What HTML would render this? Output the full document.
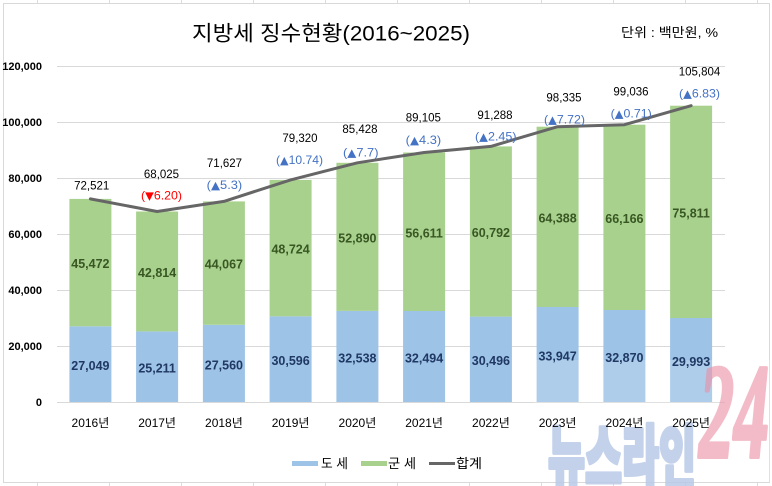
<!DOCTYPE html>
<html><head><meta charset="utf-8"><style>
html,body{margin:0;padding:0;background:#fff;}
svg{display:block;}
text{font-family:"Liberation Sans","Noto Sans CJK KR",sans-serif;}
</style></head><body>
<svg width="772" height="486" viewBox="0 0 772 486" xmlns="http://www.w3.org/2000/svg">
<rect x="0" y="0" width="772" height="486" fill="#fff"/>
<g stroke="#dcdcdc" stroke-width="1">
<line x1="37.5" y1="0" x2="37.5" y2="3"/><line x1="109.5" y1="0" x2="109.5" y2="3"/><line x1="181.5" y1="0" x2="181.5" y2="3"/><line x1="253.5" y1="0" x2="253.5" y2="3"/><line x1="325.5" y1="0" x2="325.5" y2="3"/><line x1="397.5" y1="0" x2="397.5" y2="3"/><line x1="469.5" y1="0" x2="469.5" y2="3"/><line x1="541.5" y1="0" x2="541.5" y2="3"/><line x1="613.5" y1="0" x2="613.5" y2="3"/><line x1="685.5" y1="0" x2="685.5" y2="3"/><line x1="757.5" y1="0" x2="757.5" y2="3"/>
<line x1="37.5" y1="483" x2="37.5" y2="486"/><line x1="109.5" y1="483" x2="109.5" y2="486"/><line x1="181.5" y1="483" x2="181.5" y2="486"/><line x1="253.5" y1="483" x2="253.5" y2="486"/><line x1="325.5" y1="483" x2="325.5" y2="486"/><line x1="397.5" y1="483" x2="397.5" y2="486"/><line x1="469.5" y1="483" x2="469.5" y2="486"/><line x1="541.5" y1="483" x2="541.5" y2="486"/><line x1="613.5" y1="483" x2="613.5" y2="486"/><line x1="685.5" y1="483" x2="685.5" y2="486"/><line x1="757.5" y1="483" x2="757.5" y2="486"/>
</g>
<rect x="3.5" y="3.5" width="766" height="479" fill="#fff" stroke="#d9d9d9" stroke-width="1"/>

<text x="192" y="40.5" font-size="21" fill="#000" textLength="278" lengthAdjust="spacingAndGlyphs">지방세 징수현황(2016~2025)</text>
<text x="621" y="37" font-size="13" fill="#000" textLength="97" lengthAdjust="spacingAndGlyphs">단위 : 백만원, %</text>

<g stroke="#d9d9d9" stroke-width="1">
<line x1="57" y1="66.5" x2="725" y2="66.5"/>
<line x1="57" y1="122.5" x2="725" y2="122.5"/>
<line x1="57" y1="178.5" x2="725" y2="178.5"/>
<line x1="57" y1="234.5" x2="725" y2="234.5"/>
<line x1="57" y1="290.5" x2="725" y2="290.5"/>
<line x1="57" y1="346.5" x2="725" y2="346.5"/>
<line x1="57" y1="402.5" x2="725" y2="402.5"/>
</g>
<g font-size="11" font-weight="bold" fill="#000" text-anchor="end" dominant-baseline="central">
<text x="42" y="67">120,000</text>
<text x="42" y="123">100,000</text>
<text x="42" y="179">80,000</text>
<text x="42" y="235">60,000</text>
<text x="42" y="291">40,000</text>
<text x="42" y="347">20,000</text>
<text x="42" y="403">0</text>
</g>

<g fill="#9dc3e6">
<rect x="69.4" y="326.3" width="42" height="75.7"/>
<rect x="136.1" y="331.4" width="42" height="70.6"/>
<rect x="202.9" y="324.8" width="42" height="77.2"/>
<rect x="269.6" y="316.3" width="42" height="85.7"/>
<rect x="336.4" y="310.9" width="42" height="91.1"/>
<rect x="403.1" y="311.0" width="42" height="91.0"/>
<rect x="469.9" y="316.6" width="42" height="85.4"/>
<rect x="536.6" y="307.0" width="42" height="95.0"/>
<rect x="603.4" y="310.0" width="42" height="92.0"/>
<rect x="670.1" y="318.0" width="42" height="84.0"/>
</g>
<g fill="#a9d18e">
<rect x="69.4" y="198.9" width="42" height="127.4"/>
<rect x="136.1" y="211.5" width="42" height="119.9"/>
<rect x="202.9" y="201.4" width="42" height="123.4"/>
<rect x="269.6" y="179.9" width="42" height="136.4"/>
<rect x="336.4" y="162.8" width="42" height="148.1"/>
<rect x="403.1" y="152.5" width="42" height="158.5"/>
<rect x="469.9" y="146.4" width="42" height="170.2"/>
<rect x="536.6" y="126.7" width="42" height="180.3"/>
<rect x="603.4" y="124.7" width="42" height="185.3"/>
<rect x="670.1" y="105.7" width="42" height="212.3"/>
</g>

<rect x="534" y="360" width="236" height="122" fill="#fff" opacity="0.18"/>

<g opacity="0.85">
<text x="548" y="483" font-size="70" fill="#b9cae7" stroke="#b9cae7" stroke-width="4" stroke-linejoin="round" style="font-family:'Noto Sans CJK KR','NanumGothic',sans-serif;font-weight:900" textLength="148" lengthAdjust="spacingAndGlyphs">뉴스라인</text>
</g>
<g opacity="0.6">
<text x="699" y="457" font-size="135" fill="#ec8ea3" stroke="#ec8ea3" stroke-width="4" stroke-linejoin="round" style="font-family:'Liberation Serif','DejaVu Serif',serif;font-style:italic;font-weight:bold" textLength="70" lengthAdjust="spacingAndGlyphs">24</text>
</g>

<g font-size="12.5" font-weight="bold" fill="#385723" text-anchor="middle" dominant-baseline="central">
<text x="90.4" y="264">45,472</text>
<text x="157.1" y="273">42,814</text>
<text x="223.9" y="264.6">44,067</text>
<text x="290.6" y="249.6">48,724</text>
<text x="357.4" y="238.3">52,890</text>
<text x="424.1" y="233.3">56,611</text>
<text x="490.9" y="233">60,792</text>
<text x="557.6" y="218.3">64,388</text>
<text x="624.4" y="218.8">66,166</text>
<text x="691.1" y="213.4">75,811</text>
</g>

<g font-size="12.5" font-weight="bold" fill="#203864" text-anchor="middle" dominant-baseline="central">
<text x="90.4" y="366">27,049</text>
<text x="157.1" y="368.5">25,211</text>
<text x="223.9" y="365.3">27,560</text>
<text x="290.6" y="361">30,596</text>
<text x="357.4" y="358.3">32,538</text>
<text x="424.1" y="358.3">32,494</text>
<text x="490.9" y="361">30,496</text>
<text x="557.6" y="356.3">33,947</text>
<text x="624.4" y="358">32,870</text>
<text x="691.1" y="362">29,993</text>
</g>

<polyline points="90.4,198.9 157.1,211.5 223.9,201.4 290.6,179.9 357.4,162.8 424.1,152.5 490.9,146.4 557.6,126.7 624.4,124.7 691.1,105.7" fill="none" stroke="#666666" stroke-width="3" stroke-linejoin="round" stroke-linecap="round"/>

<g font-size="11.5" fill="#000" text-anchor="middle" dominant-baseline="central">
<text x="91.7" y="186.7">72,521</text>
<text x="161.5" y="175">68,025</text>
<text x="224.5" y="164">71,627</text>
<text x="300" y="139">79,320</text>
<text x="360" y="130">85,428</text>
<text x="423.3" y="118.3">89,105</text>
<text x="495" y="116">91,288</text>
<text x="564" y="98.7">98,335</text>
<text x="631" y="92.7">99,036</text>
<text x="699.5" y="72.3">105,804</text>
</g>
<g font-size="12" fill="#4472c4" dominant-baseline="central">
<text x="141" y="195.7" fill="#ff0000" textLength="41" lengthAdjust="spacingAndGlyphs">(<tspan font-size="11" style="font-family:'DejaVu Sans',sans-serif">▼</tspan>6.20)</text>
<text x="206.7" y="185" textLength="35.5" lengthAdjust="spacingAndGlyphs">(<tspan font-size="11" style="font-family:'DejaVu Sans',sans-serif">▲</tspan>5.3)</text>
<text x="276" y="160" textLength="47" lengthAdjust="spacingAndGlyphs">(<tspan font-size="11" style="font-family:'DejaVu Sans',sans-serif">▲</tspan>10.74)</text>
<text x="343" y="152.7" textLength="35.5" lengthAdjust="spacingAndGlyphs">(<tspan font-size="11" style="font-family:'DejaVu Sans',sans-serif">▲</tspan>7.7)</text>
<text x="405.7" y="140" textLength="35.5" lengthAdjust="spacingAndGlyphs">(<tspan font-size="11" style="font-family:'DejaVu Sans',sans-serif">▲</tspan>4.3)</text>
<text x="475" y="136.7" textLength="41.5" lengthAdjust="spacingAndGlyphs">(<tspan font-size="11" style="font-family:'DejaVu Sans',sans-serif">▲</tspan>2.45)</text>
<text x="544" y="119.3" textLength="41" lengthAdjust="spacingAndGlyphs">(<tspan font-size="11" style="font-family:'DejaVu Sans',sans-serif">▲</tspan>7.72)</text>
<text x="610.7" y="113.3" textLength="41" lengthAdjust="spacingAndGlyphs">(<tspan font-size="11" style="font-family:'DejaVu Sans',sans-serif">▲</tspan>0.71)</text>
<text x="679" y="93.3" textLength="41" lengthAdjust="spacingAndGlyphs">(<tspan font-size="11" style="font-family:'DejaVu Sans',sans-serif">▲</tspan>6.83)</text>
</g>

<g font-size="12" fill="#000" text-anchor="middle" dominant-baseline="central">
<text x="90.4" y="423">2016년</text>
<text x="157.1" y="423">2017년</text>
<text x="223.9" y="423">2018년</text>
<text x="290.6" y="423">2019년</text>
<text x="357.4" y="423">2020년</text>
<text x="424.1" y="423">2021년</text>
<text x="490.9" y="423">2022년</text>
<text x="557.6" y="423">2023년</text>
<text x="624.4" y="423">2024년</text>
<text x="691.1" y="423">2025년</text>
</g>

<rect x="292" y="461" width="26" height="5" fill="#9dc3e6"/>
<text x="321" y="463.5" font-size="13" fill="#000" dominant-baseline="central" textLength="27" lengthAdjust="spacingAndGlyphs">도 세</text>
<rect x="361" y="461" width="26" height="5" fill="#a9d18e"/>
<text x="388" y="463.5" font-size="13" fill="#000" dominant-baseline="central" textLength="28" lengthAdjust="spacingAndGlyphs">군 세</text>
<line x1="429" y1="463.5" x2="455" y2="463.5" stroke="#666666" stroke-width="3"/>
<text x="456" y="463.5" font-size="13" fill="#000" dominant-baseline="central" textLength="26" lengthAdjust="spacingAndGlyphs">합계</text>
</svg>
</body></html>
